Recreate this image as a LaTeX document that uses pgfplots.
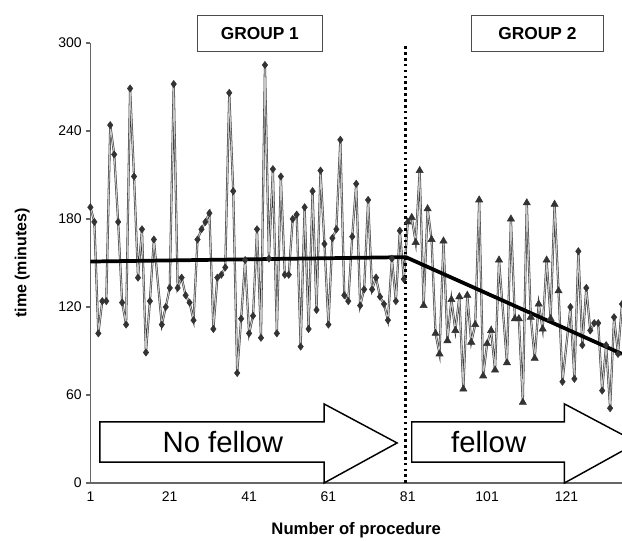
\documentclass[border=0pt]{standalone}
\usepackage{fontspec}
\setmainfont{Liberation Sans}
\usepackage{pgfplots}
\usepackage{pgfplotstable}
\pgfplotsset{compat=1.18}

\pgfplotstableread{
x y
1 188
2 178
3 102
4 124
5 124
6 244
7 224
8 178
9 123
10 108
11 269
12 209
13 140
14 173
15 89
16 124
17 166
19 108
20 120
21 133
22 272
23 133
24 140
25 128
26 123
27 111
28 166
29 173
30 178
31 184
32 105
33 140
34 142
35 147
36 266
37 199
38 75
39 112
40 152
41 102
42 114
43 173
44 99
45 285
46 153
47 214
48 102
49 209
50 142
51 142
52 180
53 183
54 93
55 188
56 105
57 199
58 118
59 213
60 163
61 108
62 167
63 173
64 234
65 128
66 124
67 168
68 204
69 121
70 132
71 193
72 132
73 140
74 127
75 122
76 111
77 153
78 124
79 172
80 139
81 178
82 181
83 164
84 213
85 121
86 187
87 166
88 102
89 88
90 165
91 97
92 125
93 104
94 127
95 64
96 128
97 96
98 108
99 193
100 73
101 95
102 104
103 77
104 152
106 82
107 180
108 112
109 112
110 55
111 191
112 113
113 85
114 122
115 105
116 152
117 112
118 190
119 131
120 69
122 120
123 71
124 158
125 94
126 133
127 104
128 109
129 109
130 63
131 94
132 51
133 113
134 88
135 122
}\proctimes

\definecolor{markgray}{HTML}{333333}

\begin{document}
\begin{tikzpicture}
% picture frame: 622 x 541 px at 0.75pt per px, axis origin at px (90.4, 483)
\path[use as bounding box] (-67.8pt,-43.5pt) rectangle (398.7pt,362.25pt);
\begin{axis}[
  at={(0,0)}, anchor=south west,
  scale only axis, width=398.7pt, height=330pt,
  xmin=1, xmax=135, ymin=0, ymax=300,
  axis x line=bottom, axis y line=left,
  axis line style={-, draw=black!60, line width=0.9pt},
  xtick={1,21,...,121}, ytick={0,60,...,300},
  x tick style={draw=none},
  y tick style={draw=black!60, line width=0.8pt},
  tick align=outside, major tick length=3pt,
  tick label style={font=\fontsize{10.5}{12}\selectfont},
  /pgf/number format/assume math mode=true,
  xlabel={\bfseries Number of procedure},
  ylabel={\bfseries time (minutes)},
  xlabel style={font=\fontsize{12.5}{14}\selectfont, at={(axis description cs:0.5,-0.107)}, anchor=center},
  ylabel style={font=\fontsize{12}{14}\selectfont, at={(axis description cs:-0.128,0.5)}, anchor=center},
  clip=false,
]
% procedure times
\addplot[draw=black!80, double=gray!45, double distance=0.8pt, line width=0.4pt, no marks]
  table[x=x, y=y] {\proctimes};
\addplot[only marks, mark=diamond*, mark size=2.7pt,
  mark options={fill=markgray, draw=markgray}, restrict x to domain=1:80]
  table[x=x, y=y] {\proctimes};
\addplot[only marks, mark=triangle*, mark size=3.1pt,
  mark options={fill=markgray, draw=markgray}, restrict x to domain=81:119]
  table[x=x, y=y] {\proctimes};
\addplot[only marks, mark=diamond*, mark size=2.7pt,
  mark options={fill=markgray, draw=markgray}, restrict x to domain=120:135]
  table[x=x, y=y] {\proctimes};
% trend lines
\addplot[black, line width=2.8pt, no marks] coordinates {(1,151) (80.5,154)};
\addplot[black, line width=2.8pt, no marks] coordinates {(80.5,154) (135,88)};
% split between groups
\draw[black, line width=2pt, dash pattern=on 2pt off 2.4pt] (axis cs:80.5,0) -- (axis cs:80.5,300);
% arrows
\draw[black, line width=1.1pt, fill=white, line join=miter]
  (axis cs:3.4,41.6) -- (axis cs:59.9,41.6) -- (axis cs:59.9,53.9) -- (axis cs:78.3,27.3)
  -- (axis cs:59.9,0) -- (axis cs:59.9,14.3) -- (axis cs:3.4,14.3) -- cycle;
\node[font=\fontsize{22}{24}\selectfont] at (axis cs:34.4,28) {No fellow};
\fill[white] (axis cs:82,41.6) -- (axis cs:120.5,41.6) -- (axis cs:120.5,53.9) -- (axis cs:135,33.1)
  -- (axis cs:135,21.7) -- (axis cs:120.5,0) -- (axis cs:120.5,14.3) -- (axis cs:82,14.3) -- cycle;
\draw[black, line width=1.1pt, line join=miter]
  (axis cs:135,33.1) -- (axis cs:120.5,53.9) -- (axis cs:120.5,41.6) -- (axis cs:82,41.6)
  -- (axis cs:82,14.3) -- (axis cs:120.5,14.3) -- (axis cs:120.5,0) -- (axis cs:135,21.7);
\node[font=\fontsize{22}{24}\selectfont] at (axis cs:101.4,28) {fellow};
% group labels
\draw[black!70, line width=0.7pt, fill=white] (axis cs:28,294) rectangle (axis cs:59.4,319);
\node[font=\bfseries\fontsize{13}{15}\selectfont] at (axis cs:43.7,306.5) {GROUP 1};
\draw[black!70, line width=0.7pt, fill=white] (axis cs:97.1,294) rectangle (axis cs:130.3,319);
\node[font=\bfseries\fontsize{13}{15}\selectfont] at (axis cs:113.7,306.5) {GROUP 2};
\end{axis}
\end{tikzpicture}
\end{document}
